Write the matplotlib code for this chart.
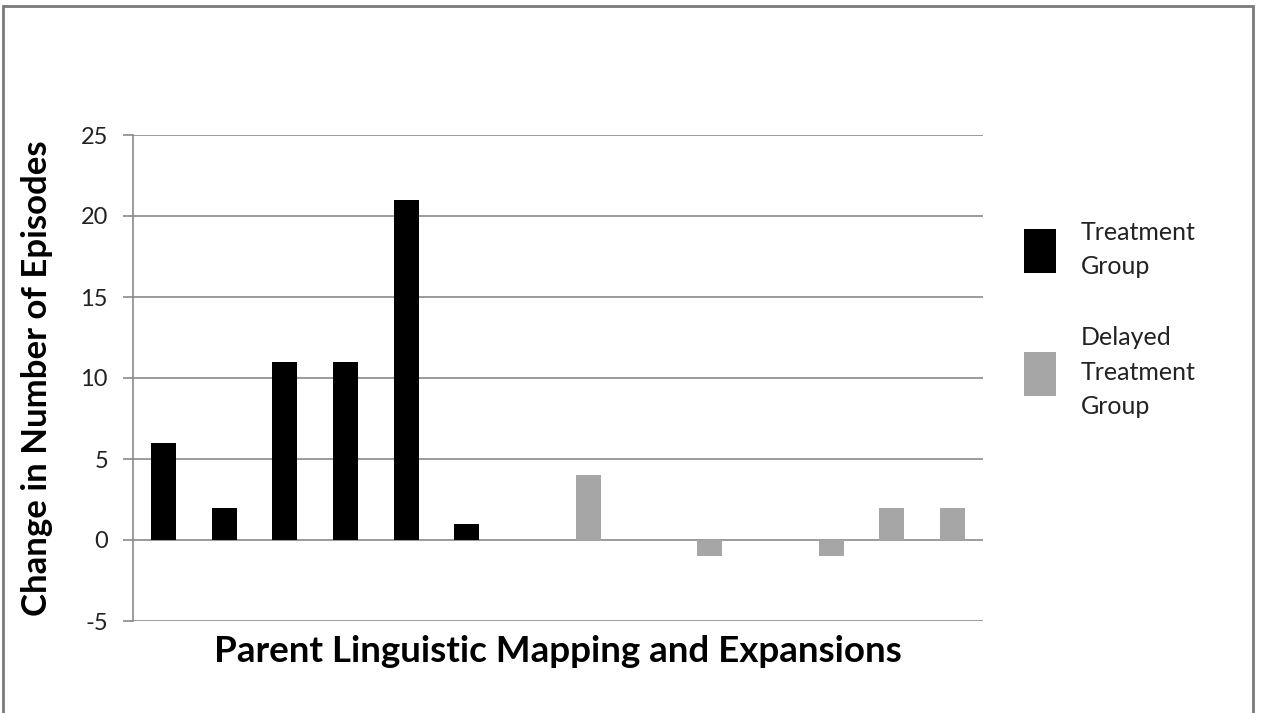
import numpy as np
import matplotlib.pyplot as plt
from matplotlib.patches import Rectangle, Patch

plt.rcParams['font.family'] = ['Lato', 'DejaVu Sans']
plt.rcParams['axes.unicode_minus'] = False

# participants 1-14, first seven treatment, last seven delayed
treatment = [6, 2, 11, 11, 21, 1, 0]
delayed = [4, 0, -1, 0, -1, 2, 2]
yticks = [-5, 0, 5, 10, 15, 20, 25]

fig = plt.figure(figsize=(12.62, 7.13), dpi=100)
ax = fig.add_axes([133/1262, 1-621/713, 850/1262, 486/713])

x1 = np.arange(len(treatment))
x2 = np.arange(len(delayed)) + len(treatment)
ax.bar(x1, treatment, width=0.41, color='black', zorder=3)
ax.bar(x2, delayed, width=0.41, color='#a6a6a6', zorder=3)

ax.set_xlim(-0.5, 13.5)
ax.set_ylim(-5, 25)
ax.set_yticks(yticks)
ax.set_xticks([])
ax.grid(axis='y', color='#8a8a8a', lw=1.2, zorder=0)
for s in ['top', 'right', 'bottom']:
    ax.spines[s].set_visible(False)
ax.spines['left'].set_color('#8a8a8a')
ax.spines['left'].set_linewidth(1.2)
ax.tick_params(axis='y', length=7, width=1.2, color='#8a8a8a', labelsize=17, pad=11,
               labelcolor='#222222')

ax.set_ylabel('Change in Number of Episodes', fontsize=25, fontweight='bold', labelpad=20)
ax.set_xlabel('Parent Linguistic Mapping and Expansions', fontsize=26.5, fontweight='bold', labelpad=10)

handles = [Patch(facecolor='black'), Patch(facecolor='#a6a6a6')]
leg = fig.legend(handles, ['Treatment\nGroup', 'Delayed\nTreatment\nGroup'],
                 loc='upper left', bbox_to_anchor=(1001/1262, 1-198/713),
                 frameon=False, fontsize=18, handlelength=1.28, handleheight=2.3,
                 labelspacing=1.9, handletextpad=1.0)
for t in leg.get_texts():
    t.set_linespacing(1.62)
    t.set_color('#222222')

# outer chart border
fig.patches.append(Rectangle((3/1262, -0.02), 1250/1262, 1.02-6/713, transform=fig.transFigure,
                             fill=False, edgecolor='#7a7a7a', lw=2))

fig.savefig('out.png', dpi=100)
